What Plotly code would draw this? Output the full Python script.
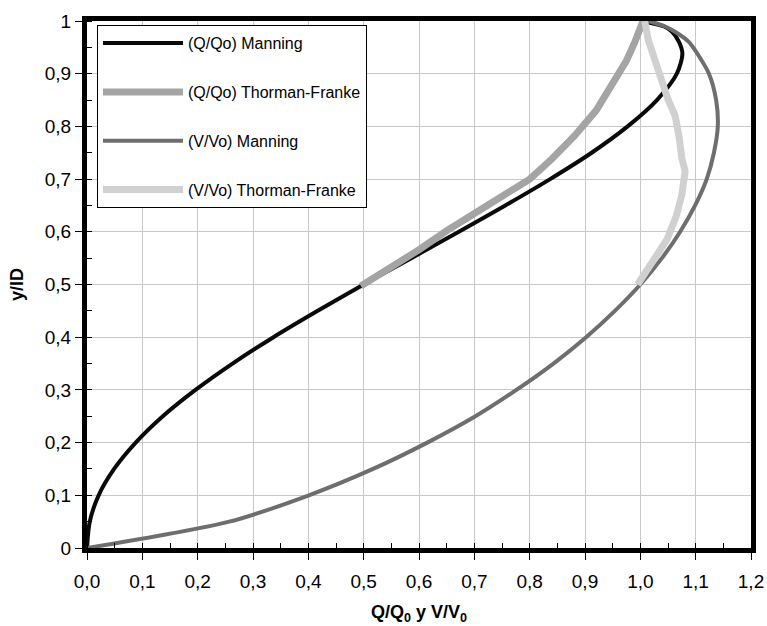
import plotly.graph_objects as go

# ---- data ----
y_levels = [0.0, 0.05, 0.10, 0.15, 0.20, 0.25, 0.30, 0.35, 0.40, 0.45, 0.50,
            0.55, 0.60, 0.65, 0.70, 0.75, 0.80, 0.85, 0.90, 0.938, 0.96, 0.98, 0.99, 1.0]
q_manning = [0.0, 0.005, 0.021, 0.049, 0.088, 0.137, 0.196, 0.263, 0.337, 0.417, 0.500,
             0.586, 0.672, 0.756, 0.837, 0.912, 0.977, 1.030, 1.066, 1.076, 1.070, 1.057, 1.042, 1.0]
v_manning = [0.0, 0.257, 0.401, 0.517, 0.615, 0.702, 0.776, 0.843, 0.902, 0.954, 1.000,
             1.039, 1.072, 1.099, 1.120, 1.133, 1.140, 1.137, 1.124, 1.103, 1.088, 1.062, 1.044, 1.015]

q_tf_x = [0.495, 0.55, 0.60, 0.65, 0.71, 0.75, 0.80, 0.84, 0.88, 0.92, 0.951, 0.975, 0.99, 1.0, 1.005]
q_tf_y = [0.497, 0.532, 0.566, 0.602, 0.642, 0.668, 0.700, 0.738, 0.781, 0.830, 0.883, 0.925, 0.960, 0.985, 1.0]

v_tf_x = [0.995, 1.02, 1.048, 1.065, 1.075, 1.081, 1.075, 1.070, 1.063, 1.050, 1.030, 1.014, 1.008]
v_tf_y = [0.50, 0.54, 0.585, 0.63, 0.67, 0.715, 0.74, 0.78, 0.82, 0.851, 0.914, 0.965, 1.0]

names = ["(Q/Qo) Manning", "(Q/Qo) Thorman-Franke", "(V/Vo) Manning", "(V/Vo) Thorman-Franke"]

y_tickvals = [0, 0.1, 0.2, 0.3, 0.4, 0.5, 0.6, 0.7, 0.8, 0.9, 1.0]
y_ticktext = ["0", "0,1", "0,2", "0,3", "0,4", "0,5", "0,6", "0,7", "0,8", "0,9", "1"]
x_tickvals = [0, 0.1, 0.2, 0.3, 0.4, 0.5, 0.6, 0.7, 0.8, 0.9, 1.0, 1.1, 1.2]
x_ticktext = ["0,0", "0,1", "0,2", "0,3", "0,4", "0,5", "0,6", "0,7", "0,8", "0,9", "1,0", "1,1", "1,2"]

FONT = "Liberation Sans, Arial, sans-serif"

fig = go.Figure()
fig.add_trace(go.Scatter(x=q_manning, y=y_levels, mode="lines", name=names[0], legendgroup="a",
                         line=dict(color="#0a0a0a", width=4, shape="spline", smoothing=0.8)))
fig.add_trace(go.Scatter(x=q_tf_x, y=q_tf_y, mode="lines", name=names[1], legendgroup="b",
                         line=dict(color="#a4a4a4", width=7)))
fig.add_trace(go.Scatter(x=v_manning, y=y_levels, mode="lines", name=names[2], legendgroup="c",
                         line=dict(color="#6e6e6e", width=4, shape="spline", smoothing=0.8)))
fig.add_trace(go.Scatter(x=v_tf_x, y=v_tf_y, mode="lines", name=names[3], legendgroup="d",
                         line=dict(color="#d0d0d0", width=7)))

fig.update_layout(
    width=767, height=626,
    margin=dict(l=87, r=16, t=21, b=78),
    paper_bgcolor="white", plot_bgcolor="white",
    font=dict(family=FONT, size=18, color="black"),
    showlegend=True,
    legend=dict(x=0.015, y=0.992, xanchor="left", yanchor="top",
                bgcolor="white", bordercolor="black", borderwidth=1,
                font=dict(size=16, family=FONT), itemwidth=80,
                tracegroupgap=25, traceorder="grouped"),
    xaxis=dict(range=[0, 1.2], tickvals=x_tickvals, ticktext=x_ticktext, automargin=False,
               showgrid=True, gridcolor="#c8c8c8", gridwidth=1,
               showline=True, linecolor="black", linewidth=5, mirror=True,
               ticks="outside", ticklen=7, tickcolor="black", tickwidth=1,
               minor=dict(dtick=0.05, ticks="inside", ticklen=5, tickcolor="black", showgrid=False),
               zeroline=False, tickfont=dict(size=19), ticklabelstandoff=5,
               title=dict(text="<b>Q/Q<sub>0</sub> y V/V<sub>0</sub></b>", font=dict(size=18), standoff=16)),
    yaxis=dict(range=[0, 1.0], tickvals=y_tickvals, ticktext=y_ticktext, automargin=False,
               showgrid=True, gridcolor="#c8c8c8", gridwidth=1,
               showline=True, linecolor="black", linewidth=5, mirror=True,
               ticks="outside", ticklen=7, tickcolor="black", tickwidth=1,
               minor=dict(dtick=0.05, ticks="inside", ticklen=5, tickcolor="black", showgrid=False),
               zeroline=False, tickfont=dict(size=19),
               title=dict(text="<b>y/ID</b>", font=dict(size=18), standoff=18)),
)

fig.write_html("out.html")
